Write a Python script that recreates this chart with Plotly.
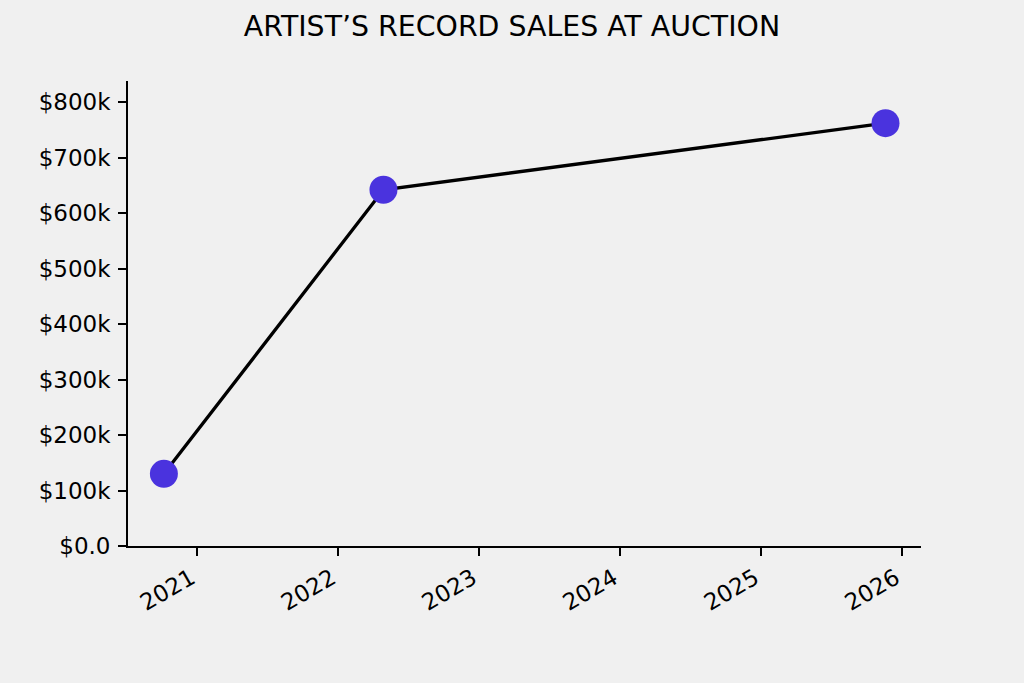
import plotly.graph_objects as go

sale_dates = ["2020-10-07", "2022-04-29", "2025-11-20"]
sale_values = [130000, 642000, 762000]
ytick_vals = [0, 100000, 200000, 300000, 400000, 500000, 600000, 700000, 800000]
ytick_text = ["$0.0", "$100k", "$200k", "$300k", "$400k", "$500k", "$600k", "$700k", "$800k"]
xtick_vals = ["2021-01-01", "2022-01-01", "2023-01-01", "2024-01-01", "2025-01-01", "2026-01-01"]
xtick_text = ["2021", "2022", "2023", "2024", "2025", "2026"]

fig = go.Figure()
fig.add_trace(go.Scatter(
    x=sale_dates, y=sale_values, mode="lines",
    line=dict(color="black", width=3.3),
    hoverinfo="skip", showlegend=False,
))
fig.add_trace(go.Scatter(
    x=sale_dates, y=sale_values, mode="markers",
    marker=dict(color="#4a33de", size=28, line=dict(width=0)),
    showlegend=False,
))

font = "DejaVu Sans"
fig.update_layout(
    width=1024, height=683,
    paper_bgcolor="#f0f0f0", plot_bgcolor="#f0f0f0",
    margin=dict(l=128, r=103, t=81, b=137),
    title=dict(text="ARTIST’S RECORD SALES AT AUCTION", x=0.5, xanchor="center",
               y=1 - 26 / 683, yanchor="middle",
               font=dict(family=font, size=28.4, color="black")),
    font=dict(family=font, color="black"),
    xaxis=dict(
        type="date", range=["2020-07-06", "2026-02-20"],
        tickmode="array", tickvals=xtick_vals, ticktext=xtick_text,
        tickangle=-30, tickfont=dict(size=23, family=font, color="black"),
        showgrid=False, zeroline=False,
        showline=True, linecolor="black", linewidth=1.8,
        ticks="outside", ticklen=8, tickwidth=1.8, tickcolor="black",
        ticklabelshift=-6,
    ),
    yaxis=dict(
        range=[0, 838000],
        tickmode="array", tickvals=ytick_vals, ticktext=ytick_text,
        tickfont=dict(size=23, family=font, color="black"),
        showgrid=False, zeroline=False,
        showline=True, linecolor="black", linewidth=1.8,
        ticks="outside", ticklen=8, tickwidth=1.8, tickcolor="black",
        ticklabelstandoff=3,
    ),
)

fig.write_html(
    "out.html",
    config={"displayModeBar": False},
    post_script="document.body.style.margin='0';document.body.style.padding='0';"
                "document.body.style.background='#f0f0f0';",
)
